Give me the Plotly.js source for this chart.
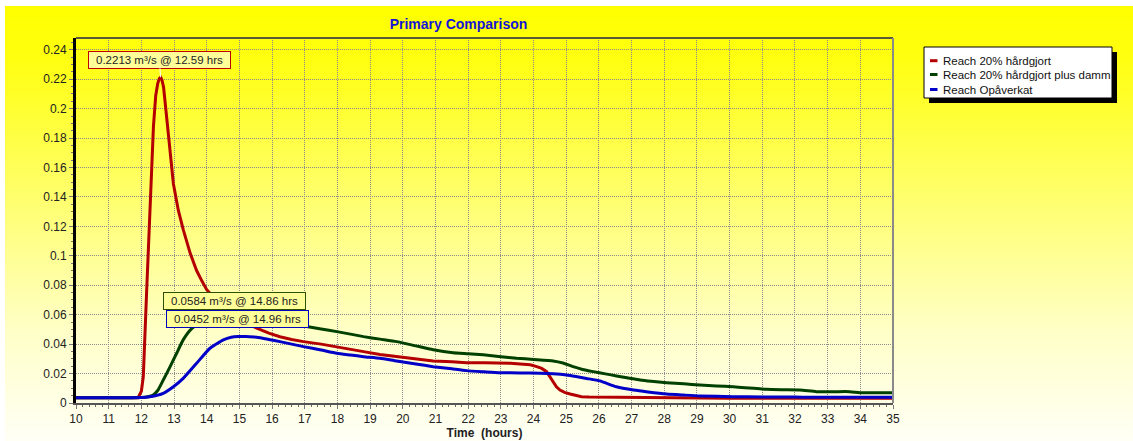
<!DOCTYPE html>
<html>
<head>
<meta charset="utf-8">
<script src="https://cdn.plot.ly/plotly-3.0.1.min.js"></script>
<style>
  html, body { margin: 0; padding: 0; background: #ffffff; }
  #wrap { position: relative; width: 1133px; height: 441px; overflow: hidden; background: #ffffff; }
  #bg { position: absolute; left: 5px; top: 6px; right: 0; bottom: 0;
        background: linear-gradient(to bottom, #ffff00 0%, #ffff10 12%, #ffff70 45%, #ffffc8 75%, #fffff6 100%); }
  #chart { position: absolute; left: 0; top: 0; width: 1133px; height: 441px; }
</style>
</head>
<body>
<div id="wrap"><div id="bg"></div><div id="chart"></div></div>
<script>
// ---- data ----
const seriesNames = ["Reach 20% hårdgjort", "Reach 20% hårdgjort plus damm", "Reach Opåverkat"];
const seriesColors = ["#b40000", "#004000", "#0000c8"];

const redTime = [10, 11.9, 12.0, 12.06, 12.16, 12.26, 12.37, 12.44, 12.5, 12.55, 12.59, 12.63, 12.68, 12.77, 12.88, 12.98, 13.13, 13.28, 13.49, 13.69, 13.85, 14.0, 14.25, 14.5, 14.75, 15.0, 15.25, 15.53, 15.9, 16.24, 16.6, 16.96, 17.5, 17.98, 18.4, 18.8, 19.3, 19.81, 20.4, 20.93, 21.5, 21.95, 22.5, 22.97, 23.3, 23.59, 23.9, 24.1, 24.25, 24.4, 24.5, 24.6, 24.7, 24.81, 24.95, 25.12, 25.3, 25.47, 25.7, 26.03, 27, 28, 29, 30, 31, 32, 33, 34, 35];
const redFlow = [0.0036, 0.0036, 0.008, 0.018, 0.075, 0.131, 0.188, 0.209, 0.217, 0.2205, 0.2213, 0.2195, 0.2145, 0.195, 0.168, 0.149, 0.131, 0.118, 0.102, 0.090, 0.083, 0.077, 0.071, 0.066, 0.061, 0.057, 0.054, 0.0508, 0.0475, 0.045, 0.0432, 0.0417, 0.040, 0.0383, 0.0365, 0.0349, 0.033, 0.0315, 0.0298, 0.0286, 0.028, 0.0274, 0.0274, 0.0274, 0.027, 0.0265, 0.026, 0.0247, 0.0235, 0.0213, 0.018, 0.0145, 0.011, 0.0088, 0.0072, 0.0061, 0.005, 0.0043, 0.0041, 0.0040, 0.0040, 0.0038, 0.0036, 0.0033, 0.0033, 0.0033, 0.0033, 0.0033, 0.0033];

const greenTime = [10, 12.0, 12.2, 12.35, 12.5, 12.67, 12.88, 13.08, 13.28, 13.54, 13.8, 14.1, 14.4, 14.86, 15.3, 15.8, 16.3, 16.7, 17.06, 17.5, 17.98, 18.4, 18.8, 19.3, 19.81, 20.4, 20.93, 21.54, 22.0, 22.46, 23.0, 23.48, 24.0, 24.6, 24.9, 25.21, 25.5, 25.83, 26.2, 26.54, 26.9, 27.26, 27.6, 28.07, 28.6, 29.09, 29.6, 30.11, 30.6, 31.13, 31.6, 32.15, 32.66, 33.2, 33.68, 33.99, 34.5, 35];
const greenFlow = [0.0036, 0.0037, 0.0042, 0.0052, 0.0085, 0.0156, 0.0247, 0.0338, 0.0429, 0.0505, 0.0545, 0.057, 0.058, 0.0584, 0.0579, 0.0565, 0.0548, 0.0535, 0.052, 0.0503, 0.0485, 0.0468, 0.0451, 0.0434, 0.0417, 0.0388, 0.0362, 0.0342, 0.0335, 0.0327, 0.0315, 0.0304, 0.0296, 0.0286, 0.0272, 0.0247, 0.0228, 0.0213, 0.0198, 0.0184, 0.017, 0.0156, 0.0147, 0.0138, 0.013, 0.0122, 0.0116, 0.011, 0.0102, 0.0093, 0.009, 0.0088, 0.0077, 0.0077, 0.0077, 0.007, 0.007, 0.007];

const blueTime = [10, 12.0, 12.26, 12.67, 12.98, 13.28, 13.69, 14.1, 14.51, 14.75, 14.96, 15.2, 15.53, 15.9, 16.24, 16.6, 16.96, 17.5, 17.98, 18.4, 18.8, 19.3, 19.81, 20.4, 20.93, 21.5, 21.95, 22.5, 22.97, 23.6, 24.2, 24.6, 25.01, 25.3, 25.62, 26.03, 26.54, 27.06, 27.5, 28.07, 28.6, 29.09, 30.1, 31, 32, 32.5, 33, 34, 35];
const blueFlow = [0.0036, 0.0037, 0.0043, 0.0066, 0.011, 0.0167, 0.027, 0.0372, 0.0429, 0.0447, 0.0452, 0.0451, 0.0447, 0.0432, 0.0417, 0.040, 0.0383, 0.036, 0.0338, 0.0326, 0.0315, 0.0304, 0.0285, 0.0265, 0.0247, 0.0232, 0.022, 0.0212, 0.0206, 0.0204, 0.0202, 0.0198, 0.019, 0.018, 0.0167, 0.015, 0.011, 0.0088, 0.0075, 0.0061, 0.0054, 0.0048, 0.0043, 0.0041, 0.0040, 0.0039, 0.0039, 0.0039, 0.0039];

const peakLabels = ["0.2213 m³/s @ 12.59 hrs", "0.0584 m³/s @ 14.86 hrs", "0.0452 m³/s @ 14.96 hrs"];
const peakTimes = [12.59, 14.86, 14.96];
const peakFlows = [0.2213, 0.0584, 0.0452];

const xTickVals = [10,11,12,13,14,15,16,17,18,19,20,21,22,23,24,25,26,27,28,29,30,31,32,33,34,35];
const yTickVals = [0, 0.02, 0.04, 0.06, 0.08, 0.1, 0.12, 0.14, 0.16, 0.18, 0.2, 0.22, 0.24];

// ---- layout helpers (pixel -> paper) ----
const L = 76, R = 893, T = 38, B = 403;
const W = 1133, H = 441;
const px = v => (v - L) / (R - L);
const py = v => (B - v) / (B - T);
const FONT = "Liberation Sans, Arial, Helvetica, sans-serif";

const times = [redTime, greenTime, blueTime];
const flows = [redFlow, greenFlow, blueFlow];
const shapesOfLine = ["linear", "spline", "spline"];
const traces = [0, 1, 2].map(i => ({
  type: "scatter", mode: "lines",
  x: times[i], y: flows[i], name: seriesNames[i],
  line: { color: seriesColors[i], width: 3, shape: shapesOfLine[i], smoothing: 0.5 },
  showlegend: false, hoverinfo: "x+y+name"
}));

// custom legend (shadowed box)
const legRows = [60.7, 74.5, 89.5];
const shapes = [
  // frame top & right
  { type: "line", xref: "paper", yref: "paper", x0: 0, x1: 1, y0: 1, y1: 1, line: { color: "#5a5a3a", width: 2 } },
  { type: "line", xref: "paper", yref: "paper", x0: 1, x1: 1, y0: 0, y1: 1, line: { color: "#8a8a8a", width: 2 } },
  // legend shadow and box
  { type: "rect", xref: "paper", yref: "paper", x0: px(929), x1: px(1117), y0: py(103), y1: py(52), fillcolor: "#000000", line: { width: 0 } },
  { type: "rect", xref: "paper", yref: "paper", x0: px(924), x1: px(1112), y0: py(98), y1: py(47), fillcolor: "#ffffff", line: { color: "#000000", width: 1 } }
];
const annotations = [];
legRows.forEach((yy, i) => {
  shapes.push({ type: "line", xref: "paper", yref: "paper", x0: px(930), x1: px(937.5), y0: py(yy), y1: py(yy), line: { color: seriesColors[i], width: 3 } });
  annotations.push({ xref: "paper", yref: "paper", x: px(941), y: py(yy), xanchor: "left", yanchor: "middle",
    text: seriesNames[i], showarrow: false, font: { family: FONT, size: 11.5, color: "#111" } });
});

// peak call-outs
const boxBorders = ["#c00000", "#2f4f00", "#0000c0"];
const arrowCols = ["#ffffff", "rgba(0,0,0,0)", "rgba(0,0,0,0)"];
const offs = [[-1.4, -17.5], [-0.5, -16.4], [-0.6, -17.6]];
for (let i = 0; i < 3; i++) {
  annotations.push({
    x: peakTimes[i], y: peakFlows[i], xref: "x", yref: "y",
    text: peakLabels[i], showarrow: true, arrowhead: 0, arrowwidth: 1, arrowcolor: arrowCols[i],
    ax: offs[i][0], ay: offs[i][1],
    bgcolor: "#ffff99", bordercolor: boxBorders[i], borderwidth: 1, borderpad: 1,
    width: 139, height: 14, align: "center",
    font: { family: FONT, size: 11.5, color: "#222" }
  });
}

const layout = {
  width: W, height: H,
  margin: { l: L, r: W - R, t: T, b: H - B, pad: 0 },
  paper_bgcolor: "rgba(0,0,0,0)",
  plot_bgcolor: "rgba(0,0,0,0)",
  showlegend: false,
  title: {
    text: "<b>Primary Comparison</b>",
    font: { family: FONT, size: 14, color: "#1414d8" },
    xref: "paper", x: px(458.5), xanchor: "center",
    yref: "container", y: 1 - 24 / H, yanchor: "middle"
  },
  xaxis: {
    range: [10, 35], tickvals: xTickVals, ticktext: xTickVals.map(String),
    showgrid: true, gridcolor: "#8c8c8c", griddash: "1px,1px", gridwidth: 1,
    showline: true, linecolor: "#555555", linewidth: 2,
    ticks: "outside", ticklen: 4, tickcolor: "#777", tickwidth: 1,
    minor: { dtick: 0.2, tick0: 10, ticks: "outside", ticklen: 2, tickcolor: "#666", showgrid: false },
    tickfont: { family: FONT, size: 12, color: "#222" },
    zeroline: false, automargin: false, fixedrange: true,
    title: { text: "<b>Time  (hours)</b>", font: { family: FONT, size: 12, color: "#222" }, standoff: 2 }
  },
  yaxis: {
    range: [0, 0.248], tickvals: yTickVals,
    ticktext: yTickVals.map(v => String(+v.toFixed(2))),
    showgrid: true, gridcolor: "#8c8c8c", griddash: "1px,1px", gridwidth: 1,
    showline: true, linecolor: "#000000", linewidth: 3,
    ticks: "outside", ticklen: 4, tickcolor: "#777", tickwidth: 1,
    minor: { dtick: 0.005, tick0: 0, ticks: "outside", ticklen: 2, tickcolor: "#777", showgrid: false },
    tickfont: { family: FONT, size: 12, color: "#222" },
    zeroline: false, automargin: false, fixedrange: true
  },
  shapes: shapes,
  annotations: annotations
};

Plotly.newPlot("chart", traces, layout, { displayModeBar: false, staticPlot: true });
</script>
</body>
</html>
